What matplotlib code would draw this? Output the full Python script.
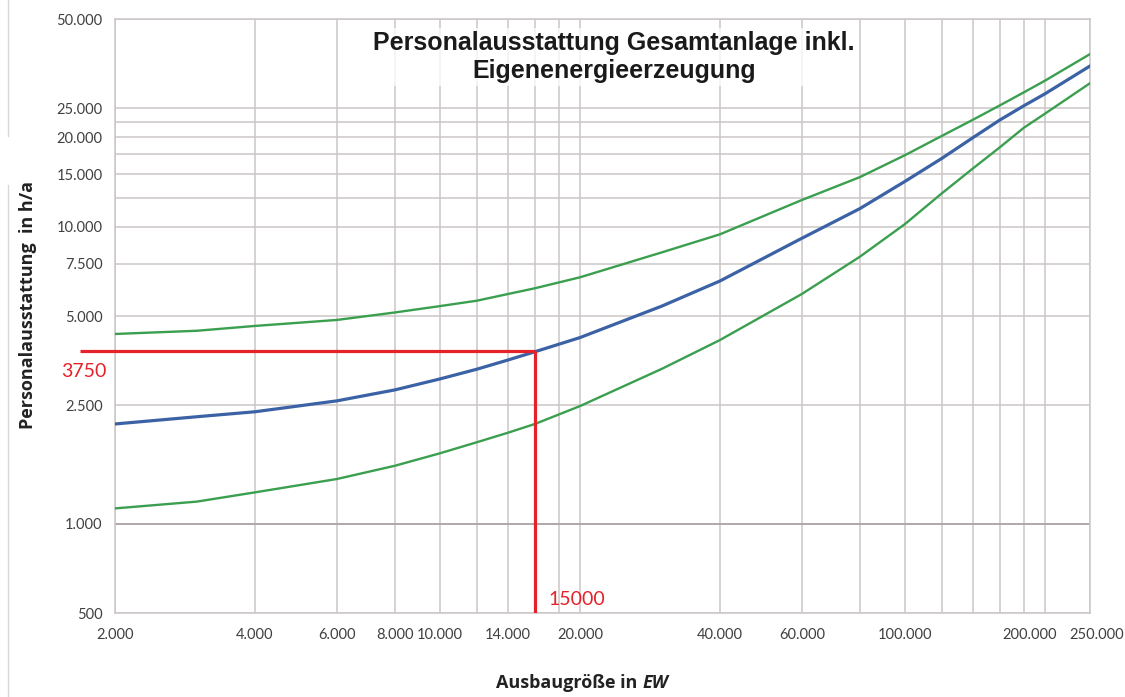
import numpy as np
import matplotlib.pyplot as plt
from matplotlib.lines import Line2D
from matplotlib.transforms import ScaledTranslation

# Ausbaugröße in EW
ew = [2000, 3000, 4000, 6000, 8000, 10000, 12000, 14000, 16000, 20000, 30000,
      40000, 60000, 80000, 100000, 120000, 140000, 160000, 180000, 200000, 250000]

# Personalausstattung in h/a (obere Grenze, Mittelwert, untere Grenze)
upper = [4350, 4460, 4630, 4850, 5140, 5400, 5630, 5930, 6200, 6750, 8190,
         9420, 12290, 14680, 17400, 20200, 22900, 25600, 28300, 31000, 38100]
middle = [2165, 2290, 2380, 2590, 2820, 3070, 3310, 3555, 3790, 4230, 5400,
          6560, 9135, 11500, 14200, 16970, 19930, 22860, 25500, 28000, 34740]
lower = [1125, 1186, 1274, 1413, 1566, 1725, 1879, 2023, 2165, 2487, 3320,
         4150, 5930, 7920, 10200, 12940, 15700, 18500, 21500, 24000, 30400]

# Ablesebeispiel (wie im Original leicht versetzt eingezeichnet)
read_x = 16000
read_y = 3820
read_x_label = '15000'
read_y_label = '3750'

x_ticks = [2000, 4000, 6000, 8000, 10000, 14000, 20000, 40000, 60000, 100000, 200000, 250000]
x_grid_extra = [12000, 16000, 18000, 80000, 120000, 140000, 160000, 180000]
y_ticks = [500, 1000, 2500, 5000, 7500, 10000, 15000, 20000, 25000, 50000]
y_grid_extra = [12500, 17500, 22500]


def de_fmt(v):
    return f'{v:,}'.replace(',', '.')


grid_col = '#cdc6c6'
green = '#3a9f4f'
blue = '#3c62a6'
red = '#e52129'

fig = plt.figure(figsize=(11.25, 6.97), dpi=100)
ax = fig.add_axes([0.1022, 0.1205, 0.8667, 0.8522])

ax.set_xscale('log')
ax.set_yscale('log')
ax.set_xlim(2000, 250000)
ax.set_ylim(500, 50000)

ax.set_xticks(x_ticks)
ax.set_xticklabels([de_fmt(v) for v in x_ticks])
ax.set_xticks(x_grid_extra, minor=True)
ax.set_yticks(y_ticks)
ax.set_yticklabels([de_fmt(v) for v in y_ticks])
ax.set_yticks(y_grid_extra, minor=True)
ax.xaxis.set_minor_formatter(plt.NullFormatter())
ax.yaxis.set_minor_formatter(plt.NullFormatter())

ax.tick_params(which='both', length=0, labelsize=10.5, labelcolor='#404040')
ax.tick_params(axis='x', pad=11)
ax.tick_params(axis='y', pad=9)
for lab in ax.get_xticklabels() + ax.get_yticklabels():
    lab.set_family('Lato')

# die beiden letzten x-Beschriftungen stehen im Original etwas versetzt
xlabs = ax.get_xticklabels()
xlabs[-2].set_transform(xlabs[-2].get_transform() + ScaledTranslation(-0.15, 0, fig.dpi_scale_trans))
xlabs[-1].set_transform(xlabs[-1].get_transform() + ScaledTranslation(0.07, 0, fig.dpi_scale_trans))

ax.grid(True, which='both', color=grid_col, linewidth=1.1)
ax.set_axisbelow(True)
for s in ax.spines.values():
    s.set_color(grid_col)
    s.set_linewidth(1.1)
ax.axhline(1000, color='#a8a2a2', linewidth=1.2, zorder=1)

ax.plot(ew, upper, color=green, linewidth=1.7, zorder=3)
ax.plot(ew, lower, color=green, linewidth=1.7, zorder=3)
ax.plot(ew, middle, color=blue, linewidth=2.3, zorder=3)

# rote Ablesehilfe
ax.plot([1680, read_x], [read_y, read_y], color=red, linewidth=2.3,
        clip_on=False, zorder=4, solid_capstyle='butt')
ax.plot([read_x, read_x], [read_y, 500], color=red, linewidth=2.3,
        zorder=4, solid_capstyle='butt')
ax.text(1530, 3240, read_y_label, color=red, fontsize=14, family='Lato',
        ha='left', va='center')
ax.text(17100, 557, read_x_label, color=red, fontsize=14, family='Lato',
        ha='left', va='center')

ax.text(0.512, 0.936, 'Personalausstattung Gesamtanlage inkl.\nEigenenergieerzeugung',
        transform=ax.transAxes, ha='center', va='center', fontsize=18,
        fontweight='bold', family='Liberation Sans', linespacing=1.25,
        color='#1a1a1a',
        bbox=dict(facecolor='white', edgecolor='none', alpha=0.75, pad=2))

ax.set_ylabel('Personalausstattung  in h/a', fontsize=13, fontweight='bold',
              family='Open Sans', color='#222222')
ax.yaxis.set_label_coords(-0.08, 0.518)
fig.text(0.571, 0.02, 'Ausbaugröße in ', fontsize=13, fontweight='bold',
         family='Open Sans', color='#222222', ha='right', va='center')
fig.text(0.571, 0.02, 'EW', fontsize=13, fontweight='bold', style='italic',
         family='Open Sans', color='#222222', ha='left', va='center')

# Scanrand links
fig.add_artist(Line2D([0.0075, 0.0075], [1.0, 0.805], transform=fig.transFigure,
                      color='#d8d8d8', linewidth=1))
fig.add_artist(Line2D([0.0075, 0.0075], [0.735, 0.0], transform=fig.transFigure,
                      color='#d8d8d8', linewidth=1))

fig.savefig('out.png', dpi=100)
